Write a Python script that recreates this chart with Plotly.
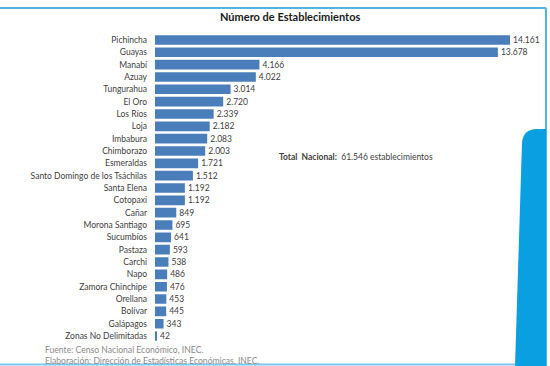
import plotly.graph_objects as go

provincias = ["Pichincha", "Guayas", "Manabí", "Azuay", "Tungurahua", "El Oro", "Los Ríos",
              "Loja", "Imbabura", "Chimborazo", "Esmeraldas", "Santo Domingo de los Tsáchilas",
              "Santa Elena", "Cotopaxi", "Cañar", "Morona Santiago", "Sucumbíos", "Pastaza",
              "Carchi", "Napo", "Zamora Chinchipe", "Orellana", "Bolívar", "Galápagos",
              "Zonas No Delimitadas"]
establecimientos = [14161, 13678, 4166, 4022, 3014, 2720, 2339, 2182, 2083, 2003, 1721, 1512,
                    1192, 1192, 849, 695, 641, 593, 538, 486, 476, 453, 445, 343, 42]

W, H = 550, 366
def px(x): return x / W
def py(y): return 1 - y / H

FONT = "Lato"
TXT = "#404040"

fig = go.Figure(go.Bar(
    x=establecimientos, y=provincias, orientation="h",
    marker=dict(color="#4a7ebb", line=dict(width=0)),
    width=0.78,
    text=establecimientos, texttemplate="%{x:,}", textposition="outside",
    textfont=dict(family=FONT, size=8.5, color=TXT),
    constraintext="none", cliponaxis=False,
))

fig.update_layout(
    width=W, height=H, margin=dict(l=0, r=0, t=0, b=0),
    paper_bgcolor="white", plot_bgcolor="white",
    separators=",.",
    showlegend=False,
    xaxis=dict(domain=[px(155), px(510)], range=[0, 14161], visible=False, fixedrange=True),
    yaxis=dict(domain=[py(342.2), py(33.8)], autorange="reversed", showgrid=False,
               showline=False, ticks="", ticklabelstandoff=7,
               tickfont=dict(family=FONT, size=8.5, color=TXT)),
    annotations=[
        dict(text="<b>Número de Establecimientos</b>", x=px(290), y=py(16), xref="paper", yref="paper",
             showarrow=False, xanchor="center", yanchor="middle",
             font=dict(family=FONT, size=11, color="#1a1a1a")),
        dict(text="<b>Total  Nacional:</b>  61.546 establecimientos", x=px(277), y=py(157),
             xref="paper", yref="paper", showarrow=False, xanchor="left", yanchor="middle",
             font=dict(family=FONT, size=8.5, color=TXT)),
        dict(text="Fuente: Censo Nacional Económico, INEC.", x=px(43), y=py(350),
             xref="paper", yref="paper", showarrow=False, xanchor="left", yanchor="middle",
             font=dict(family=FONT, size=8.6, color="#8a8a8a")),
        dict(text="Elaboración: Dirección de Estadísticas Económicas, INEC.", x=px(43), y=py(361),
             xref="paper", yref="paper", showarrow=False, xanchor="left", yanchor="middle",
             font=dict(family=FONT, size=8.6, color="#8a8a8a")),
    ],
    shapes=[
        dict(type="line", xref="paper", yref="paper", x0=0, x1=px(546), y0=py(8), y1=py(8),
             line=dict(color="#4fb6e6", width=2)),
        dict(type="line", xref="paper", yref="paper", x0=px(546), x1=px(546), y0=py(8), y1=py(366),
             line=dict(color="#4fb6e6", width=2)),
        dict(type="line", xref="paper", yref="paper", x0=0, x1=px(520), y0=py(364.5), y1=py(364.5),
             line=dict(color="#7cc8ee", width=2)),
        dict(type="path", xref="paper", yref="paper",
             path=(f"M {px(515)},{py(366)} L {px(522)},{py(143)} "
                   f"Q {px(523)},{py(129)} {px(537)},{py(129)} L {px(546)},{py(129)} "
                   f"L {px(546)},{py(366)} Z"),
             fillcolor="#0a9fe0", line=dict(width=0)),
    ],
)

fig.write_html("out.html")
